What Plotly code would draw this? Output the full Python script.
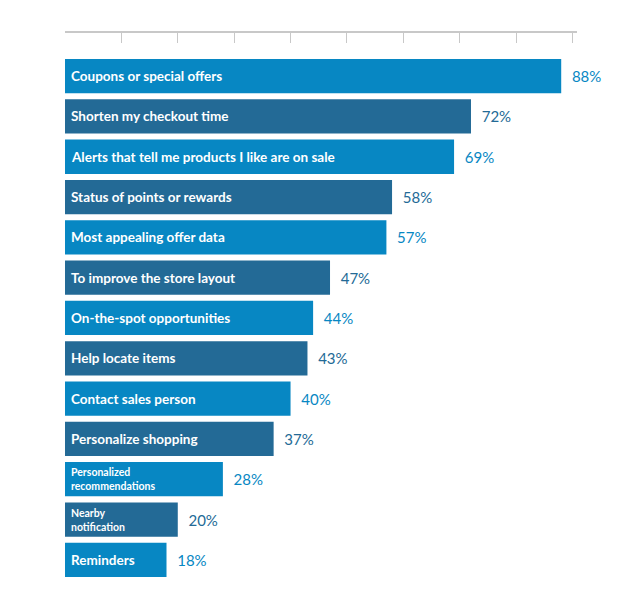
import plotly.graph_objects as go

labels = ["Coupons or special offers", "Shorten my checkout time",
          "Alerts that tell me products I like are on sale", "Status of points or rewards",
          "Most appealing offer data", "To improve the store layout",
          "On-the-spot opportunities", "Help locate items", "Contact sales person",
          "Personalize shopping", "Personalized<br>recommendations", "Nearby<br>notification",
          "Reminders"]
values = [88, 72, 69, 58, 57, 47, 44, 43, 40, 37, 28, 20, 18]

light, dark = "#0787C3", "#236A96"
colors = [light if i % 2 == 0 else dark for i in range(len(values))]
ylab = list(range(len(values)))

fig = go.Figure(go.Bar(
    x=values, y=ylab, orientation="h", marker=dict(color=colors, line_width=0),
    width=0.85, text=[f"  {v}%" for v in values], textposition="outside",
    textfont=dict(family="Lato", size=15, color=colors), cliponaxis=False,
    hoverinfo="skip",
))

for i, (lab, v) in enumerate(zip(labels, values)):
    small = "<br>" in lab
    fig.add_annotation(x=0, y=i, text=f"<b>{lab}</b>", showarrow=False, xanchor="left",
                       xshift=4, align="left",
                       font=dict(family="Lato", size=10.5 if small else 13.5, color="white"))

fig.update_layout(
    width=633, height=608, margin=dict(l=57, r=64, t=25, b=36, autoexpand=False),
    plot_bgcolor="white", paper_bgcolor="white", showlegend=False,
    xaxis=dict(side="top", range=[0, 90.8], tickvals=list(range(0, 91, 10)), showgrid=False,
               zeroline=False, showline=True, linecolor="#c8c8c8", linewidth=1.5,
               ticks="inside", ticklen=10, tickcolor="#c8c8c8", showticklabels=False),
    yaxis=dict(range=[12.5, -1.07], showticklabels=False, showgrid=False, zeroline=False),
)

fig.write_html("out.html")
